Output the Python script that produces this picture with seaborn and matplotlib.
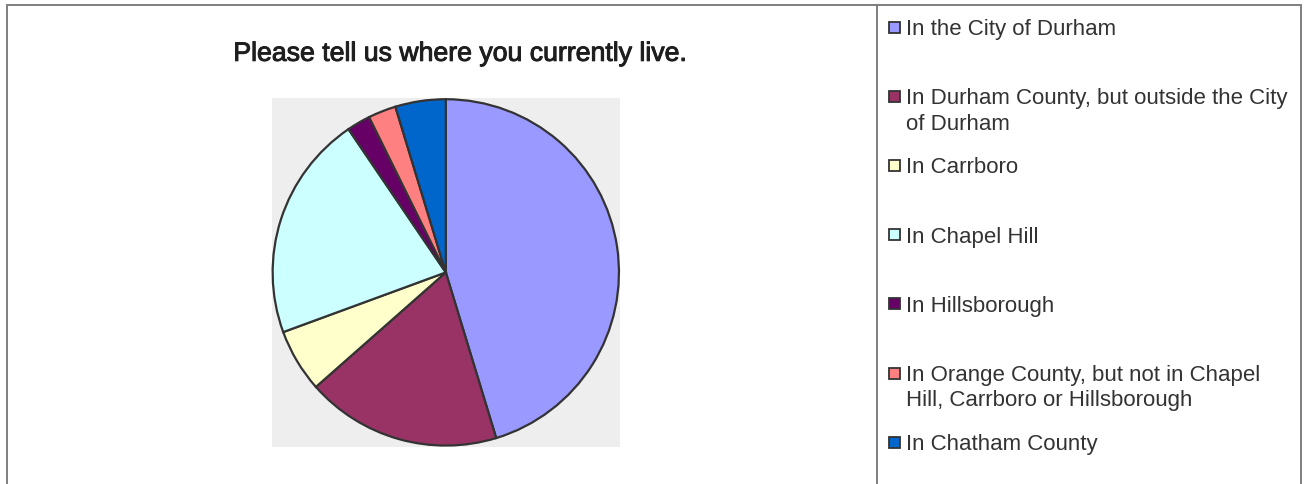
import matplotlib
matplotlib.use("Agg")
import matplotlib.pyplot as plt
import matplotlib.patheffects as pe
from matplotlib.lines import Line2D
from matplotlib.patches import Rectangle
import seaborn as sns

# Survey answers: share of respondents (%) by place of residence
categories = [
    "In the City of Durham",
    "In Durham County, but outside the City\nof Durham",
    "In Carrboro",
    "In Chapel Hill",
    "In Hillsborough",
    "In Orange County, but not in Chapel\nHill, Carrboro or Hillsborough",
    "In Chatham County",
]
shares = [45.3, 18.2, 5.9, 21.1, 2.2, 2.6, 4.7]
slice_colors = ["#9999FF", "#993366", "#FFFFCC", "#CCFFFF", "#660066", "#FF8080", "#0066CC"]
title = "Please tell us where you currently live."

sns.set_style("white")
plt.rcParams["font.family"] = ["Liberation Sans", "DejaVu Sans"]

W, H = 1304, 484
fig = plt.figure(figsize=(W / 100, H / 100), dpi=100)
fig.patch.set_facecolor("white")


def fx(px):
    return px / W


def fy(py):
    return 1 - py / H


# outer frame and divider between the plot area and the legend
frame_kw = dict(color="#7f7f7f", lw=1.4, transform=fig.transFigure)
fig.add_artist(Line2D([fx(7), fx(7)], [fy(4.5), 0], **frame_kw))
fig.add_artist(Line2D([fx(7), fx(1300.5)], [fy(4.5), fy(4.5)], **frame_kw))
fig.add_artist(Line2D([fx(877), fx(877)], [fy(4.5), 0], **frame_kw))
fig.add_artist(Line2D([fx(1300.5), fx(1300.5)], [fy(4.5), 0], **frame_kw))

# pie on a light grey square
ax = fig.add_axes([fx(271.6), fy(447.2), fx(348.4), 349.6 / H])
palette = sns.color_palette(slice_colors)
ax.pie(
    shares,
    colors=palette,
    startangle=90,
    counterclock=False,
    radius=1.0,
    wedgeprops=dict(edgecolor="#333333", linewidth=1.6),
)
ax.set_xlim(-1.006, 1.006)
ax.set_ylim(-1.006, 1.006)
ax.set_frame_on(True)
ax.set_facecolor("#EEEEEE")
for sp in ax.spines.values():
    sp.set_visible(False)
ax.set_xticks([])
ax.set_yticks([])

# chart title (slightly heavier strokes than the legend text)
title_px = 19.2 * 100 / 72
fig.text(fx(459.5), fy(51.3 + 0.716 * title_px / 2), title,
         ha="center", va="baseline", fontsize=19.2, color="#1e1e1e",
         path_effects=[pe.withStroke(linewidth=0.7, foreground="#1e1e1e")])

# legend: one entry per category, evenly stepped down the right panel
leg_size = 16.0
leg_px = leg_size * 100 / 72
first_center = 27.0
step = 69.2
line_gap = 25.4
for i, (label, col) in enumerate(zip(categories, palette)):
    cy = first_center + i * step
    fig.add_artist(Rectangle((fx(888.5), fy(cy + 5.5)), fx(11), 11 / H,
                             facecolor=col, edgecolor="#333333", lw=1.3,
                             transform=fig.transFigure))
    for j, line in enumerate(label.split("\n")):
        base = cy + 0.716 * leg_px / 2 + j * line_gap
        fig.text(fx(906), fy(base), line, ha="left", va="baseline",
                 fontsize=leg_size, color="#333333")

fig.savefig("out.png", dpi=100, facecolor="white")
